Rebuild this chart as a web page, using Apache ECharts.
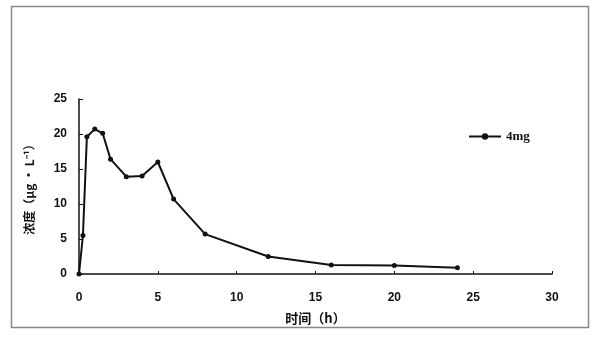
<!DOCTYPE html>
<html><head><meta charset="utf-8">
<script src="https://cdn.jsdelivr.net/npm/echarts@6/dist/echarts.min.js"></script>
<style>html,body{margin:0;padding:0;background:#fff}#c{width:601px;height:340px}</style>
</head><body><div id="c"></div>
<script>
var times = [0, 0.25, 0.5, 1, 1.5, 2, 3, 4, 5, 6, 8, 12, 16, 20, 24];
var conc = [0, 5.5, 19.6, 20.7, 20.1, 16.4, 13.9, 14.0, 16.0, 10.7, 5.7, 2.5, 1.3, 1.2, 0.9];
var seriesName = '4mg';
var xTitle = '时间（h）';
var yTitle = '浓度（μg · L⁻¹）';

var chart = echarts.init(document.getElementById('c'));
var lbl = {color:'#111', fontFamily:'Liberation Sans, Arial', fontWeight:'bold', fontSize:12};
chart.setOption({
  backgroundColor:'#fff',
  animation:false,
  graphic:[{type:'rect', shape:{x:11.5,y:6.5,width:577,height:321}, style:{fill:'none', stroke:'#888', lineWidth:1.5}, z:-1}],
  grid:{left:79, right:49, top:99, bottom:66},
  legend:{data:[seriesName], left:463, top:125, itemWidth:32, itemHeight:8, itemGap:4,
    textStyle:{color:'#111', fontFamily:'Liberation Serif, serif', fontWeight:'bold', fontSize:13}},
  xAxis:{type:'value', min:0, max:30, interval:5,
    name:xTitle, nameLocation:'middle', nameGap:38,
    nameTextStyle:{color:'#111', fontFamily:'Noto Sans CJK SC', fontWeight:'bold', fontSize:13},
    axisLine:{lineStyle:{color:'#111', width:1.5}},
    axisTick:{show:true, inside:true, length:3, lineStyle:{color:'#111'}},
    axisLabel:Object.assign({margin:18}, lbl),
    splitLine:{show:false}},
  yAxis:{type:'value', min:0, max:25, interval:5,
    name:yTitle, nameLocation:'middle', nameGap:44,
    nameTextStyle:{color:'#111', fontFamily:'Noto Sans CJK SC', fontWeight:'bold', fontSize:12},
    axisLine:{show:true, lineStyle:{color:'#111', width:1.5}},
    axisTick:{show:true, inside:true, length:4, lineStyle:{color:'#111'}},
    axisLabel:Object.assign({margin:12}, lbl),
    splitLine:{show:false}},
  series:[{name:seriesName, type:'line', data:times.map(function(t,i){return [t, conc[i]];}),
    symbol:'circle', symbolSize:5, showSymbol:true,
    lineStyle:{color:'#111', width:2}, itemStyle:{color:'#111'}}]
});
</script></body></html>
